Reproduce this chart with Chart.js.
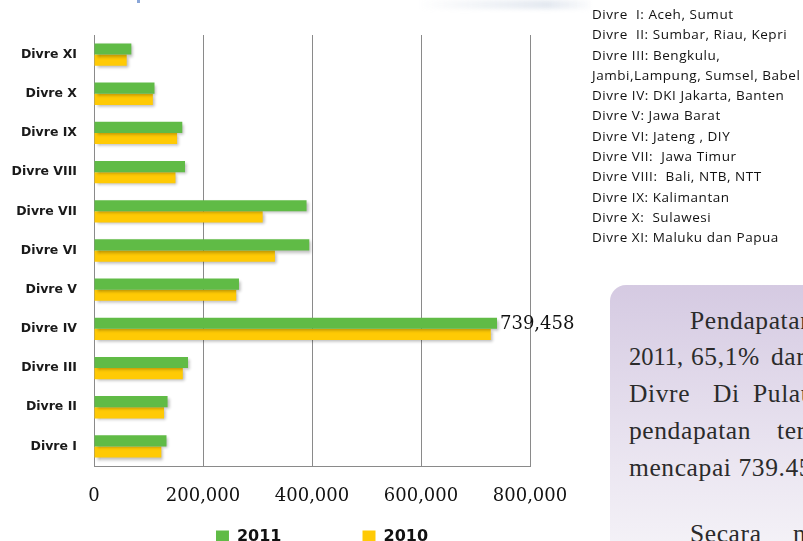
<!DOCTYPE html>
<html>
<head>
<meta charset="utf-8">
<script src="https://cdn.jsdelivr.net/npm/chart.js@4.4.1/dist/chart.umd.min.js"></script>
<style>
    html, body { margin: 0; padding: 0; background: #fff; overflow: hidden; }
    body { width: 803px; height: 541px; position: relative; }
    #wrap { position: absolute; left: 0; top: 0; width: 803px; height: 541px; }
    .streak { position: absolute; left: 420px; top: 0; width: 170px; height: 9px;
        background: linear-gradient(to right, rgba(210,218,230,0), rgba(200,210,225,0.5) 75%, rgba(228,233,241,0.15));
        filter: blur(2px); }
    .mark { position: absolute; left: 137px; top: 0; width: 3px; height: 3px; background: #8aa6d8; }
    #notes { position: absolute; left: 592px; top: 4px; font-family: "Open Sans", sans-serif;
        font-size: 13.5px; letter-spacing: 0.55px; line-height: 20.3px; color: #111; white-space: pre; }
    #box { position: absolute; left: 610px; top: 285px; width: 260px; height: 300px; border-radius: 16px;
        background: linear-gradient(to bottom, #d5cae2, #ebe6f1 60%, #f8f7fa); }
    .w { position: absolute; font-family: "Liberation Serif", serif; font-size: 25.5px; letter-spacing: 0.6px;
        color: #2b2b2b; white-space: pre; line-height: 1; }
    .tight { font-size: 24.5px; letter-spacing: 0; }
</style>
</head>
<body>
<div class="streak"></div>
<div class="mark"></div>
<div id="wrap"><canvas id="chart" width="803" height="541"></canvas></div>
<div id="notes">Divre  I: Aceh, Sumut
Divre  II: Sumbar, Riau, Kepri
Divre III: Bengkulu,
Jambi,Lampung, Sumsel, Babel
Divre IV: DKI Jakarta, Banten
Divre V: Jawa Barat
Divre VI: Jateng , DIY
Divre VII:  Jawa Timur
Divre VIII:  Bali, NTB, NTT
Divre IX: Kalimantan
Divre X:  Sulawesi
Divre XI: Maluku dan Papua</div>
<div id="box"></div>
<span class="w" style="left:690px;top:308px">Pendapatan</span>
<span class="w tight" style="left:629px;top:345px">2011,</span>
<span class="w" style="left:691px;top:344px">65,1%</span>
<span class="w" style="left:771px;top:344px">dari</span>
<span class="w" style="left:629px;top:381px">Divre</span>
<span class="w" style="left:713px;top:381px">Di</span>
<span class="w" style="left:753px;top:381px">Pulau</span>
<span class="w" style="left:629px;top:418px">pendapatan</span>
<span class="w" style="left:777px;top:418px">tertinggi</span>
<span class="w" style="left:629px;top:455px">mencapai 739.458</span>
<span class="w" style="left:690px;top:521px">Secara</span>
<span class="w" style="left:793px;top:521px">nasional</span>
<script>
// pendapatan per divre, top row first (Divre XI) down to Divre I
const divreLabels = ['Divre XI', 'Divre X', 'Divre IX', 'Divre VIII', 'Divre VII', 'Divre VI',
    'Divre V', 'Divre IV', 'Divre III', 'Divre II', 'Divre I'];
const values2011 = [68500, 111000, 162000, 167000, 390000, 395000, 266000, 739458, 172500, 135000, 133000];
const values2010 = [60000, 108000, 152500, 149500, 309500, 332000, 261000, 728000, 163000, 128500, 123500];
const xTicks = [0, 200000, 400000, 600000, 800000];

const green = '#60bb46';
const yellow = '#ffca05';

// soft drop shadow under the bars + value label on the biggest 2011 bar
const barExtras = {
    id: 'barExtras',
    beforeDatasetsDraw(chart) {
        const ctx = chart.ctx;
        ctx.save();
        ctx.shadowColor = 'rgba(0,0,0,0.28)';
        ctx.shadowBlur = 3;
        ctx.shadowOffsetX = 2;
        ctx.shadowOffsetY = 2;
    },
    afterDatasetsDraw(chart) {
        const ctx = chart.ctx;
        ctx.restore();
        let maxIdx = values2011.indexOf(Math.max(...values2011));
        let bar = chart.getDatasetMeta(0).data[maxIdx];
        ctx.save();
        ctx.font = '18px "DejaVu Serif"';
        ctx.fillStyle = '#111';
        ctx.textBaseline = 'middle';
        ctx.textAlign = 'left';
        ctx.fillText(values2011[maxIdx].toLocaleString('en-US'), bar.x + 3, bar.y + 1);
        ctx.restore();
    }
};

// legend sits under the whole left block, not just the plot
const legendSpot = {
    id: 'legendSpot',
    beforeDraw(chart) {
        let lg = chart.legend;
        lg.left = 0;
        lg.right = 644;
        lg.top = 448;
    }
};

new Chart(document.getElementById('chart'), {
    type: 'bar',
    data: {
        labels: divreLabels,
        datasets: [
            { label: '2011', data: values2011, backgroundColor: green, borderWidth: 0 },
            { label: '2010', data: values2010, backgroundColor: yellow, borderWidth: 0 }
        ]
    },
    plugins: [barExtras, legendSpot],
    options: {
        indexAxis: 'y',
        responsive: false,
        animation: false,
        events: [],
        categoryPercentage: 0.57,
        barPercentage: 1.0,
        layout: { padding: { left: 0, right: 273, top: 35, bottom: 0 } },
        scales: {
            x: {
                min: 0,
                max: 800000,
                afterBuildTicks(scale) { scale.ticks = xTicks.map(v => ({ value: v })); },
                afterFit(scale) { scale.height = 74; },
                grid: { color: '#8a8a8a', lineWidth: 1, drawTicks: false },
                border: { display: true, color: '#8a8a8a', width: 1 },
                ticks: {
                    padding: 20,
                    color: '#111',
                    font: { family: 'DejaVu Serif', size: 18 },
                    callback: v => v.toLocaleString('en-US')
                }
            },
            y: {
                afterFit(scale) { scale.width = 94; },
                grid: { display: false, drawTicks: false },
                border: { display: true, color: '#8a8a8a', width: 1 },
                ticks: {
                    padding: 17,
                    color: '#1a1a1a',
                    font: { family: 'DejaVu Sans', size: 12.5, weight: 'bold' }
                }
            }
        },
        plugins: {
            tooltip: { enabled: false },
            legend: {
                position: 'bottom',
                maxHeight: 1,
                labels: {
                    boxWidth: 13,
                    boxHeight: 13,
                    padding: 81,
                    color: '#111',
                    font: { family: 'DejaVu Sans', size: 16, weight: 'bold' }
                }
            }
        }
    }
});
</script>
</body>
</html>
